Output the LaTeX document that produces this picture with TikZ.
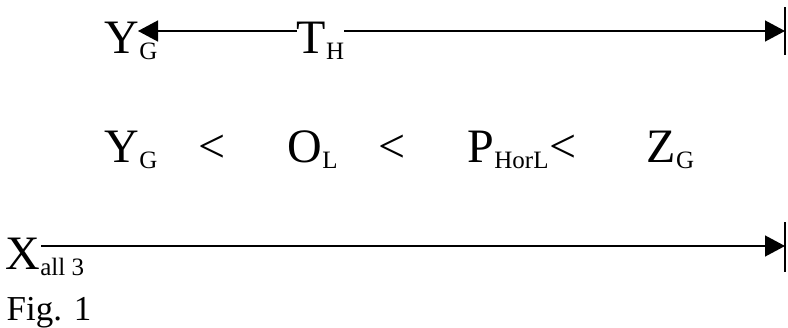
\documentclass[tikz,border=0pt]{standalone}
\usepackage{fontspec}
\setmainfont{Liberation Serif}
\usetikzlibrary{arrows.meta}

\newcommand{\lowsub}[1]{\raisebox{-6pt}{\fontsize{25}{25}\selectfont #1}}

\begin{document}
\begin{tikzpicture}[x=1pt,y=-1pt,line width=1.4pt,
  sym/.style={font=\fontsize{48}{48}\selectfont,inner sep=0pt,anchor=base west},
  figlabel/.style={font=\fontsize{35}{35}\selectfont,inner sep=0pt,anchor=base west}]
  \useasboundingbox (0,0) rectangle (788,327);
  % top line
  \node[sym] (ytop) at (104,53) {Y\lowsub{G}};
  \coordinate (topl) at (138,31);
  \coordinate (topr) at (785,31);
  \draw[{Triangle[length=20pt,width=21pt]}-{Triangle[length=20pt,width=21pt]}] (topl) -- (topr);
  \node[sym,fill=white] (th) at (296,53) {T\lowsub{H}};
  \coordinate (topbara) at (785,7);
  \coordinate (topbarb) at (785,55);
  \draw (topbara) -- (topbarb);
  % middle row
  \node[sym] (ymid) at (104,162) {Y\lowsub{G}};
  \node[sym] (lta) at (198,162) {<};
  \node[sym] (ol) at (287,162) {O\lowsub{L}};
  \node[sym] (ltb) at (378,162) {<};
  \node[sym] (phorl) at (467,162) {P\lowsub{HorL}};
  \node[sym] (ltc) at (phorl.base east) {<};
  \node[sym] (zg) at (646,162) {Z\lowsub{G}};
  % bottom line
  \node[sym] (xall) at (5,269) {X\lowsub{all 3}};
  \coordinate (botl) at (41,246);
  \coordinate (botr) at (785,246);
  \draw[-{Triangle[length=20pt,width=21pt]}] (botl) -- (botr);
  \coordinate (botbara) at (785,222);
  \coordinate (botbarb) at (785,272);
  \draw (botbara) -- (botbarb);
  \node[figlabel] (fig) at (6,320) {Fig. 1};
\end{tikzpicture}
\end{document}
